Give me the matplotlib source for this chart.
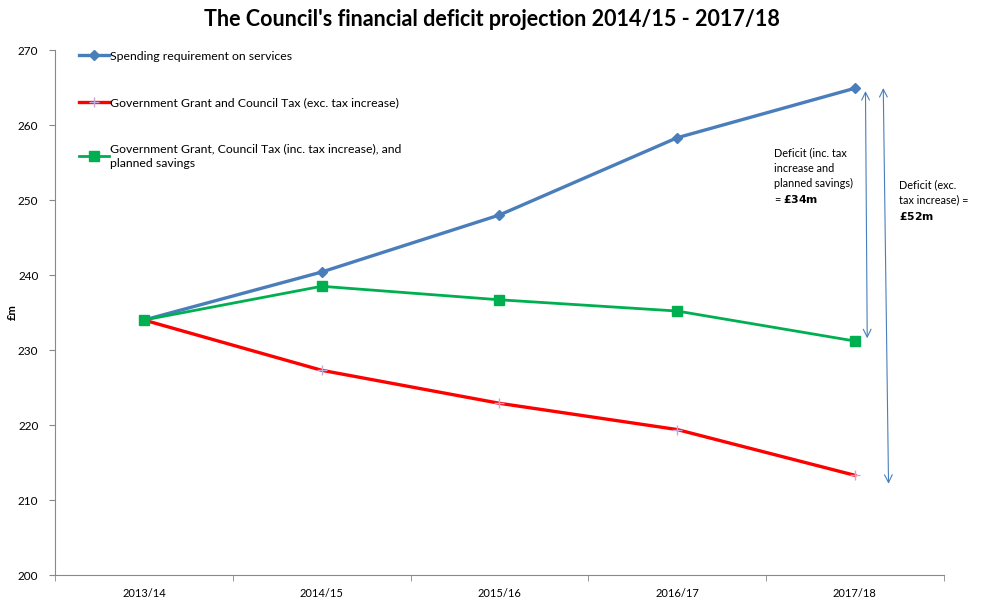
import matplotlib.pyplot as plt
import numpy as np

# data
years = ['2013/14', '2014/15', '2015/16', '2016/17', '2017/18']
spending = [234.0, 240.4, 248.0, 258.3, 264.9]
grant_exc = [234.0, 227.3, 222.9, 219.4, 213.3]
grant_inc_savings = [234.0, 238.5, 236.7, 235.2, 231.2]

labels = ['Spending requirement on services',
          'Government Grant and Council Tax (exc. tax increase)',
          'Government Grant, Council Tax (inc. tax increase), and\nplanned savings']

plt.rcParams['font.family'] = ['Lato', 'DejaVu Sans']

fig = plt.figure(figsize=(9.84, 5.99), dpi=100)
ax = fig.add_axes([0.056, 0.040, 0.903, 0.8765])

x = np.arange(len(years))
ax.plot(x, spending, color='#4A7EBB', lw=2.4, marker='D', ms=5, label=labels[0])
ax.plot(x, grant_exc, color='#FF0000', lw=2.4, marker='+', ms=7, mec='#C8A8D8', mew=1, label=labels[1])
ax.plot(x, grant_inc_savings, color='#00B050', lw=2.0, marker='s', ms=7, label=labels[2])

ax.set_xlim(-0.5, len(years) - 0.5)
ax.set_ylim(200, 270)
ax.set_yticks(np.arange(200, 271, 10))
ax.set_xticks(x)
ax.set_xticklabels(years)
ax.set_xticks(np.arange(-0.5, len(years), 1), minor=True)
ax.tick_params(axis='x', which='major', length=0, pad=9, labelsize=8)
ax.tick_params(axis='x', which='minor', length=4, color='#888888')
ax.tick_params(axis='y', length=4, color='#888888', labelsize=8.5, pad=8)

for s in ['top', 'right']:
    ax.spines[s].set_visible(False)
for s in ['left', 'bottom']:
    ax.spines[s].set_color('#888888')

ax.set_ylabel('£m', fontsize=8, fontweight='bold')
ax.yaxis.set_label_coords(-0.042, 0.5)
fig.suptitle("The Council's financial deficit projection 2014/15 - 2017/18",
             fontsize=15.5, fontweight='bold', y=0.985)

leg = ax.legend(loc='upper left', bbox_to_anchor=(0.015, 1.02), frameon=False,
                fontsize=8.8, labelspacing=2.9, handlelength=2.4, handletextpad=0.1)
for t in leg.get_texts():
    t.set_linespacing(1.35)

# deficit arrows
arrow = dict(arrowstyle='<->', color='#4A7EBB', lw=0.8, mutation_scale=14)
ax.annotate('', xy=(4.06, spending[-1]), xytext=(4.07, grant_inc_savings[-1]), arrowprops=arrow)
ax.annotate('', xy=(4.16, spending[-1] + 0.4), xytext=(4.19, grant_exc[-1] - 1.5), arrowprops=arrow)

ax.text(3.545, 257.0, 'Deficit (inc. tax\nincrease and\nplanned savings)\n= $\\bf{£34m}$',
        fontsize=7.8, va='top', ha='left', linespacing=1.45)
ax.text(4.25, 252.8, 'Deficit (exc.\ntax increase) =\n$\\bf{£52m}$',
        fontsize=7.8, va='top', ha='left', linespacing=1.45)

fig.savefig('out.png', dpi=100)
